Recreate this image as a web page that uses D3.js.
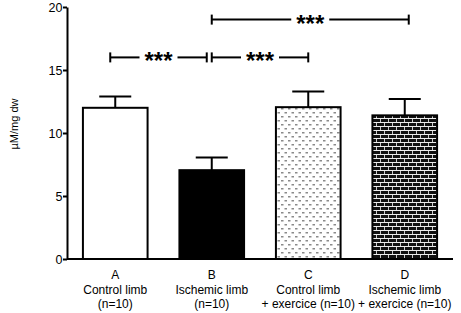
<!DOCTYPE html>
<html>
<head>
<meta charset="utf-8">
<script src="https://cdn.jsdelivr.net/npm/d3@7"></script>
<style>
  body { margin: 0; background: #fff; }
  text { font-family: Arial, "Liberation Sans", sans-serif; }
</style>
</head>
<body>
<div id="chart"></div>
<script>
// bar chart with error bars and significance brackets
const groups = ["A", "B", "C", "D"];
const groupLines = [
    ["A", "Control limb", "(n=10)"],
    ["B", "Ischemic limb", "(n=10)"],
    ["C", "Control limb", "+ exercice (n=10)"],
    ["D", "Ischemic limb", "+ exercice (n=10)"]
];
const means = [12.0, 7.05, 12.05, 11.4];
const errors = [0.9, 1.0, 1.25, 1.3];
const yTicks = [0, 5, 10, 15, 20];
// significance brackets: from group, to group, level, label
const brackets = [
    { from: "A", to: "B", level: 16, label: "***" },
    { from: "B", to: "C", level: 16, label: "***" },
    { from: "B", to: "D", level: 19, label: "***" }
];

const W = 461, H = 313;
const margin = { top: 7, right: 8, bottom: 54, left: 67 };
const width = W - margin.left - margin.right;
const height = H - margin.top - margin.bottom;

const svg = d3.select("#chart").append("svg")
    .attr("width", W)
    .attr("height", H);

// patterns for bars C and D
const defs = svg.append("defs");
let dots = defs.append("pattern")
    .attr("id", "dots")
    .attr("patternUnits", "userSpaceOnUse")
    .attr("width", 7).attr("height", 8);
dots.append("rect").attr("width", 7).attr("height", 8).attr("fill", "#fff");
dots.append("rect").attr("x", 0.5).attr("y", 1).attr("width", 2.5).attr("height", 1.5).attr("fill", "#8a8a8a");
dots.append("rect").attr("x", 4).attr("y", 5).attr("width", 2.5).attr("height", 1.5).attr("fill", "#8a8a8a");

let bricks = defs.append("pattern")
    .attr("id", "bricks")
    .attr("patternUnits", "userSpaceOnUse")
    .attr("width", 8).attr("height", 8);
bricks.append("rect").attr("width", 8).attr("height", 8).attr("fill", "#111");
bricks.append("rect").attr("x", 0).attr("y", 3).attr("width", 8).attr("height", 1).attr("fill", "#eee");
bricks.append("rect").attr("x", 0).attr("y", 7).attr("width", 8).attr("height", 1).attr("fill", "#eee");
bricks.append("rect").attr("x", 1).attr("y", 0).attr("width", 1).attr("height", 3).attr("fill", "#ccc");
bricks.append("rect").attr("x", 5).attr("y", 4).attr("width", 1).attr("height", 3).attr("fill", "#ccc");

const fills = ["#fff", "#000", "url(#dots)", "url(#bricks)"];

const g = svg.append("g")
    .attr("transform", `translate(${margin.left},${margin.top})`);

const x = d3.scaleBand()
    .domain(groups)
    .range([0, width])
    .paddingInner(0.33)
    .paddingOuter(0.165);

const y = d3.scaleLinear()
    .domain([0, 20])
    .range([height, 0]);

// bars
g.selectAll(".bar")
    .data(groups)
    .enter().append("rect")
    .attr("class", "bar")
    .attr("x", d => x(d))
    .attr("y", (d, i) => y(means[i]))
    .attr("width", x.bandwidth())
    .attr("height", (d, i) => height - y(means[i]))
    .attr("fill", (d, i) => fills[i])
    .attr("stroke", "#000")
    .attr("stroke-width", 2);

// error bars (upper only)
const cap = 16;
groups.forEach((d, i) => {
    let cx = x(d) + x.bandwidth() / 2;
    g.append("line")
        .attr("x1", cx).attr("x2", cx)
        .attr("y1", y(means[i])).attr("y2", y(means[i] + errors[i]))
        .attr("stroke", "#000").attr("stroke-width", 2);
    g.append("line")
        .attr("x1", cx - cap).attr("x2", cx + cap)
        .attr("y1", y(means[i] + errors[i])).attr("y2", y(means[i] + errors[i]))
        .attr("stroke", "#000").attr("stroke-width", 2);
});

// axes
const yAxis = d3.axisLeft(y).tickValues(yTicks).tickSize(4).tickSizeOuter(0);
g.append("g")
    .attr("class", "y-axis")
    .call(yAxis)
    .call(a => a.select(".domain").attr("stroke-width", 2))
    .call(a => a.selectAll(".tick line").attr("stroke-width", 2))
    .call(a => a.selectAll(".tick text")
        .attr("font-size", 12.5)
        .attr("font-family", "Arial, 'Liberation Sans', sans-serif")
        .attr("x", -4.5));

g.append("line")
    .attr("x1", 0).attr("x2", width)
    .attr("y1", height).attr("y2", height)
    .attr("stroke", "#000").attr("stroke-width", 2);

// x labels
groups.forEach((d, i) => {
    let cx = x(d) + x.bandwidth() / 2;
    let t = g.append("text")
        .attr("text-anchor", "middle")
        .attr("font-size", 12)
        .attr("transform", `translate(${cx},${height + 20})`);
    groupLines[i].forEach((line, j) => {
        t.append("tspan")
            .attr("x", 0)
            .attr("dy", j == 0 ? 0 : 14.5)
            .text(line);
    });
});

// y axis label
svg.append("text")
    .attr("text-anchor", "middle")
    .attr("font-size", 11)
    .attr("transform", `translate(18, 124) rotate(-90)`)
    .text("µM/mg dw");

// significance brackets
brackets.forEach((b, i) => {
    let x1 = x(b.from) + x.bandwidth() / 2 - (b.from == "A" ? 5 : 0);
    let x2 = x(b.to) + x.bandwidth() / 2 + (b.to == "D" ? 4 : 0);
    if (b.from == "A") x2 -= 5;
    let yy = y(b.level);
    let mid = (x1 + x2) / 2;
    let gap = 19;
    g.append("line")
        .attr("x1", x1).attr("x2", mid - gap)
        .attr("y1", yy).attr("y2", yy)
        .attr("stroke", "#000").attr("stroke-width", 2);
    g.append("line")
        .attr("x1", mid + gap).attr("x2", x2)
        .attr("y1", yy).attr("y2", yy)
        .attr("stroke", "#000").attr("stroke-width", 2);
    [x1, x2].forEach(xx => {
        g.append("line")
            .attr("x1", xx).attr("x2", xx)
            .attr("y1", yy - 5).attr("y2", yy + 5)
            .attr("stroke", "#000").attr("stroke-width", 2);
    });
    g.append("text")
        .attr("x", mid)
        .attr("y", yy + 12)
        .attr("text-anchor", "middle")
        .attr("font-size", 24)
        .attr("font-weight", "bold")
        .text(b.label);
});
</script>
</body>
</html>
